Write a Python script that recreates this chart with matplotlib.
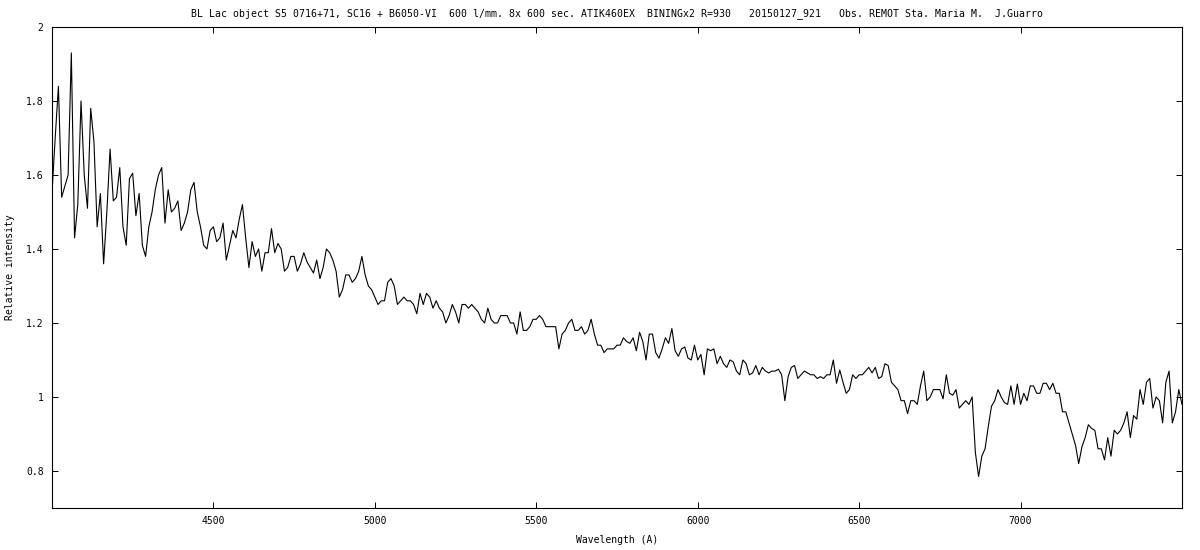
import numpy as np
import matplotlib
matplotlib.use('Agg')
import matplotlib.pyplot as plt

# espectro, paso de 10 A desde 4000 A
intensidad = [
    1.55, 1.70, 1.84, 1.54, 1.57, 1.60, 1.93, 1.43, 1.52, 1.80,
    1.60, 1.51, 1.78, 1.69, 1.46, 1.55, 1.36, 1.50, 1.67, 1.53,
    1.54, 1.62, 1.46, 1.41, 1.59, 1.605, 1.49, 1.55, 1.41, 1.38,
    1.46, 1.50, 1.56, 1.60, 1.62, 1.47, 1.56, 1.50, 1.51, 1.53,
    1.45, 1.47, 1.50, 1.56, 1.58, 1.50, 1.46, 1.41, 1.40, 1.45,
    1.46, 1.42, 1.43, 1.47, 1.37, 1.41, 1.45, 1.43, 1.48, 1.52,
    1.43, 1.35, 1.42, 1.38, 1.40, 1.34, 1.39, 1.39, 1.455, 1.39,
    1.415, 1.40, 1.34, 1.35, 1.38, 1.38, 1.34, 1.36, 1.39, 1.365,
    1.35, 1.335, 1.37, 1.32, 1.35, 1.40, 1.39, 1.37, 1.34, 1.27,
    1.29, 1.33, 1.33, 1.31, 1.32, 1.34, 1.38, 1.33, 1.30, 1.29,
    1.27, 1.25, 1.26, 1.26, 1.31, 1.32, 1.30, 1.25, 1.26, 1.27,
    1.26, 1.26, 1.25, 1.225, 1.28, 1.25, 1.28, 1.27, 1.24, 1.26,
    1.24, 1.23, 1.20, 1.22, 1.25, 1.23, 1.20, 1.25, 1.25, 1.24,
    1.25, 1.24, 1.23, 1.21, 1.20, 1.24, 1.21, 1.20, 1.20, 1.22,
    1.22, 1.22, 1.20, 1.20, 1.17, 1.23, 1.18, 1.18, 1.19, 1.21,
    1.21, 1.22, 1.21, 1.19, 1.19, 1.19, 1.19, 1.13, 1.17, 1.18,
    1.20, 1.21, 1.18, 1.18, 1.19, 1.17, 1.18, 1.21, 1.17, 1.14,
    1.14, 1.12, 1.13, 1.13, 1.13, 1.14, 1.14, 1.16, 1.15, 1.145,
    1.16, 1.125, 1.175, 1.15, 1.10, 1.17, 1.17, 1.12, 1.105, 1.13,
    1.16, 1.145, 1.185, 1.125, 1.11, 1.13, 1.135, 1.105, 1.10, 1.14,
    1.10, 1.115, 1.06, 1.13, 1.125, 1.13, 1.09, 1.11, 1.09, 1.08,
    1.10, 1.095, 1.07, 1.06, 1.10, 1.09, 1.06, 1.065, 1.085, 1.06,
    1.08, 1.07, 1.065, 1.07, 1.07, 1.075, 1.06, 0.99, 1.055, 1.08,
    1.085, 1.05, 1.06, 1.07, 1.065, 1.06, 1.06, 1.05, 1.055, 1.05,
    1.06, 1.06, 1.10, 1.037, 1.073, 1.04, 1.01, 1.02, 1.06, 1.05,
    1.06, 1.06, 1.07, 1.08, 1.065, 1.08, 1.05, 1.055, 1.09, 1.085,
    1.04, 1.03, 1.02, 0.99, 0.99, 0.955, 0.99, 0.99, 0.98, 1.03,
    1.07, 0.99, 1.00, 1.02, 1.02, 1.02, 0.995, 1.06, 1.01, 1.005,
    1.02, 0.97, 0.98, 0.99, 0.98, 1.00, 0.85, 0.785, 0.84, 0.86,
    0.92, 0.975, 0.99, 1.02, 1.00, 0.985, 0.98, 1.03, 0.98, 1.035,
    0.98, 1.01, 0.99, 1.03, 1.03, 1.01, 1.01, 1.037, 1.037, 1.02,
    1.037, 1.01, 1.01, 0.96, 0.96, 0.93, 0.90, 0.87, 0.82, 0.865,
    0.89, 0.925, 0.915, 0.91, 0.86, 0.86, 0.83, 0.89, 0.84, 0.91,
    0.90, 0.91, 0.93, 0.96, 0.89, 0.95, 0.94, 1.02, 0.98, 1.04,
    1.05, 0.97, 1.00, 0.99, 0.93, 1.04, 1.07, 0.93, 0.96, 1.02,
    0.98,
]
longitud_onda = np.arange(len(intensidad)) * 10 + 4000

xticks = [4500, 5000, 5500, 6000, 6500, 7000]
yticks = [0.8, 1.0, 1.2, 1.4, 1.6, 1.8, 2.0]
yticklabels = ['0.8', '1', '1.2', '1.4', '1.6', '1.8', '2']

titulo = ('BL Lac object S5 0716+71, SC16 + B6050-VI  600 l/mm. 8x 600 sec. '
          'ATIK460EX  BININGx2 R=930   20150127_921   Obs. REMOT Sta. Maria M.  J.Guarro')

plt.rcParams['font.family'] = 'DejaVu Sans Mono'
plt.rcParams['font.size'] = 7

fig = plt.figure(figsize=(12, 5.5), dpi=100)
ax = fig.add_axes([0.0433, 0.0764, 0.9417, 0.8745])

ax.plot(longitud_onda, intensidad, color='black', linewidth=0.8)

ax.set_xlim(4000, 7500)
ax.set_ylim(0.7, 2.0)
ax.set_xticks(xticks)
ax.set_yticks(yticks)
ax.set_yticklabels(yticklabels)
ax.tick_params(direction='in', length=4.5, width=0.7, top=True, right=True,
               labelsize=7, pad=6)
for s in ax.spines.values():
    s.set_linewidth(0.8)

ax.set_title(titulo, fontsize=7.15, pad=8)
ax.set_xlabel('Wavelength (A)', fontsize=7, labelpad=6)
ax.set_ylabel('Relative intensity', fontsize=7, labelpad=8)

fig.savefig('out.png', dpi=100)
